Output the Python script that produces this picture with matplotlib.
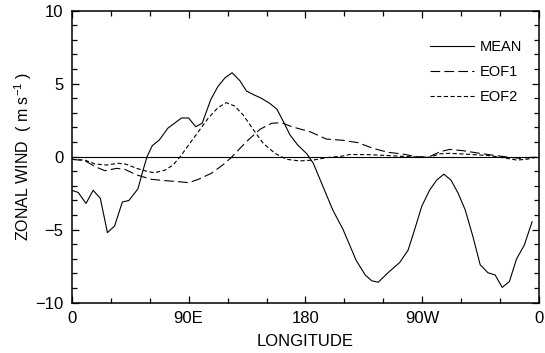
import matplotlib
matplotlib.use("Agg")
import matplotlib.pyplot as plt
from matplotlib.ticker import MultipleLocator, FixedLocator

plt.rcParams['font.family'] = ['Liberation Sans', 'DejaVu Sans']
plt.rcParams['lines.scale_dashes'] = False

# Data (longitude in degrees east, 0..360)
mean_lon = [0, 5, 11, 16.5, 22, 27.5, 33, 39, 44, 51, 55, 58, 62, 67.5, 74, 84.5, 90,
            95.5, 100.5, 107, 112.5, 118, 123.5, 129.5, 134.5, 140, 146, 152.5, 158,
            163, 168, 174, 181, 186, 193.5, 201, 209, 219, 226, 231, 236, 243.5, 252.5,
            259, 264, 269.5, 275.5, 281, 286.5, 292, 297.5, 303, 309, 314.5, 320.5, 326,
            331.5, 337, 342.5, 348.5, 354.5]
mean_val = [-2.3, -2.45, -3.2, -2.3, -2.85, -5.2, -4.75, -3.1, -3.0, -2.2, -0.9, 0.0,
            0.75, 1.15, 1.95, 2.65, 2.65, 2.05, 2.3, 3.9, 4.8, 5.4, 5.75, 5.2, 4.5, 4.25,
            4.0, 3.65, 3.25, 2.4, 1.5, 0.8, 0.2, -0.45, -2.05, -3.65, -5.0, -7.1, -8.1,
            -8.5, -8.6, -7.95, -7.25, -6.4, -5.0, -3.4, -2.3, -1.6, -1.2, -1.6, -2.5,
            -3.65, -5.5, -7.4, -7.95, -8.1, -8.95, -8.55, -7.0, -6.05, -4.45]

eof1_lon = [0, 10, 18, 25.5, 34.5, 41, 50, 61.5, 72, 82, 90, 97.5, 107.5, 118, 123,
            134.5, 145, 154, 161.5, 169.5, 183.5, 196, 209, 220.5, 232, 243.5, 255,
            265.5, 274.5, 283.5, 291, 301.5, 314, 327, 337, 345, 355, 357.5]
eof1_val = [-0.18, -0.27, -0.68, -0.96, -0.8, -0.87, -1.25, -1.55, -1.64, -1.71, -1.78,
            -1.55, -1.14, -0.45, -0.04, 1.03, 1.88, 2.29, 2.33, 2.05, 1.71, 1.21, 1.12,
            0.96, 0.57, 0.3, 0.18, 0.0, -0.04, 0.34, 0.5, 0.41, 0.23, 0.07, -0.04,
            -0.11, -0.04, -0.05]

eof2_lon = [0, 10, 18, 27, 36, 42, 50, 59, 64, 72, 78, 83.5, 90, 97.5, 105, 112.5, 119,
            125.5, 132, 140, 147.5, 156.5, 165.5, 175.5, 186, 196, 209, 214, 229.5, 245,
            260, 275.5, 283.5, 291, 306.5, 322, 335, 342.5, 350, 357.5]
eof2_val = [-0.18, -0.23, -0.5, -0.57, -0.45, -0.52, -0.8, -1.03, -1.1, -0.91, -0.57,
            0.0, 0.8, 1.71, 2.63, 3.35, 3.7, 3.47, 2.86, 1.83, 0.91, 0.23, -0.18, -0.29,
            -0.23, -0.07, 0.05, 0.15, 0.14, 0.07, 0.0, -0.04, 0.2, 0.23, 0.16, 0.07,
            -0.11, -0.23, -0.18, -0.04]

xtick_pos = [0, 90, 180, 270, 360]
xtick_labels = ['0', '90E', '180', '90W', '0']

fig = plt.figure(figsize=(5.45, 3.53), dpi=100)
ax = fig.add_axes([0.1316, 0.1425, 0.8579, 0.8272])

ax.plot(mean_lon, mean_val, color='black', lw=0.8, ls='-', label='MEAN')
ax.plot(eof1_lon, eof1_val, color='black', lw=0.8, ls=(0, (7, 3)), label='EOF1')
ax.plot(eof2_lon, eof2_val, color='black', lw=0.8, ls=(0, (3, 1.8)), label='EOF2')
ax.axhline(0, color='black', lw=0.8)

ax.set_xlim(0, 360)
ax.set_ylim(-10, 10)
ax.xaxis.set_major_locator(FixedLocator(xtick_pos))
ax.set_xticklabels(xtick_labels)
ax.xaxis.set_minor_locator(MultipleLocator(30))
ax.yaxis.set_major_locator(MultipleLocator(5))
ax.yaxis.set_minor_locator(MultipleLocator(1))
ax.tick_params(which='both', direction='in', top=True, right=True, labelsize=12,
               width=0.9, colors='black')
ax.tick_params(which='major', length=5, pad=6)
ax.tick_params(which='minor', length=3.5)
for s in ax.spines.values():
    s.set_linewidth(1.1)

ax.set_xlabel('LONGITUDE', fontsize=12, labelpad=6)
ax.set_ylabel('ZONAL WIND  ( m s$^{\\mathregular{-1}}$ )', fontsize=11.5, labelpad=1)

leg = ax.legend(loc='upper right', frameon=False, fontsize=10.5, handlelength=3.0,
                handletextpad=0.4, labelspacing=0.75, bbox_to_anchor=(0.991, 0.944))

fig.savefig('out.png', dpi=100)
